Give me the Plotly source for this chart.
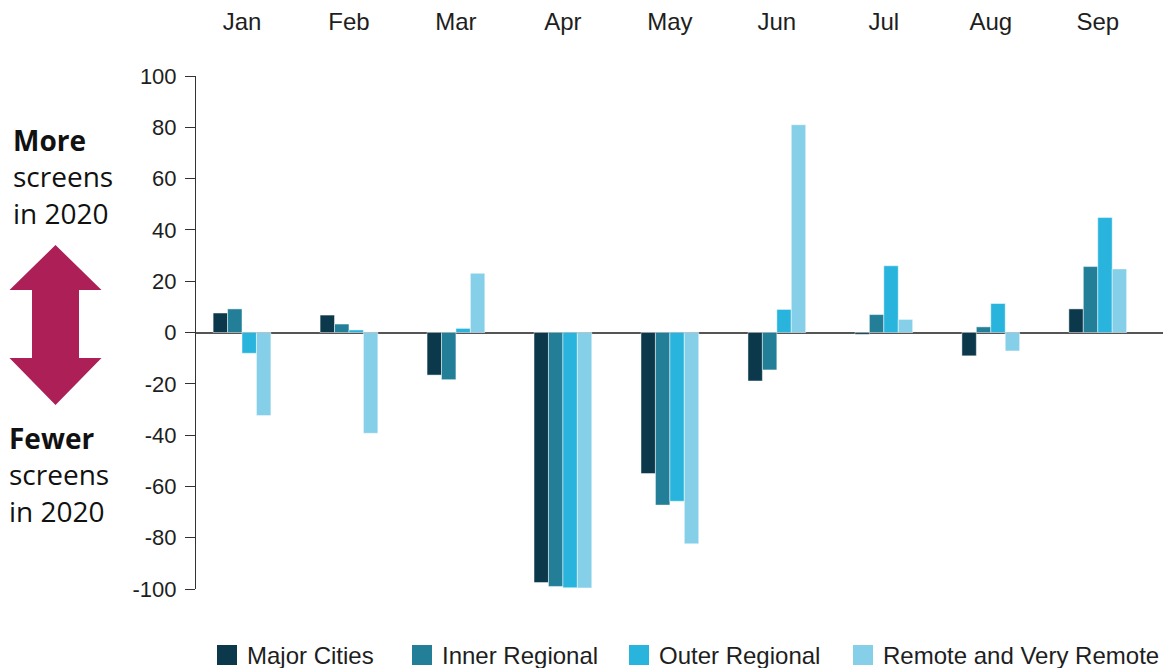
import plotly.graph_objects as go

months = ["Jan", "Feb", "Mar", "Apr", "May", "Jun", "Jul", "Aug", "Sep"]
major_cities = [7.6, 6.8, -16.6, -97.5, -55.0, -18.9, -0.7, -9.1, 9.2]
inner_regional = [9.2, 3.3, -18.4, -99.0, -67.3, -14.6, 7.0, 2.2, 25.7]
outer_regional = [-8.1, 1.0, 1.6, -99.5, -65.8, 9.0, 26.0, 11.3, 44.8]
remote = [-32.4, -39.3, 23.1, -99.6, -82.4, 81.0, 5.1, -7.2, 24.8]
y_ticks = list(range(-100, 101, 20))
y_tick_labels = [str(v) for v in y_ticks]

series = [
    ("Major Cities", major_cities, "#0b394b"),
    ("Inner Regional", inner_regional, "#237f98"),
    ("Outer Regional", outer_regional, "#29b4dd"),
    ("Remote and Very Remote", remote, "#86cfe9"),
]

W, H = 1173, 668
L, R, T, B = 196, 1163, 76, 589

def px(x):
    return (x - L) / (R - L)

def py(y):
    return (B - y) / (B - T)

FONT = "Liberation Sans, Arial, sans-serif"
TXT = "#1e1e1e"

fig = go.Figure()
for name, vals, col in series:
    fig.add_trace(go.Bar(
        x=months, y=vals, name=name, showlegend=False,
        marker=dict(color=col, line=dict(color="rgba(255,255,255,0.6)", width=0.8)),
    ))

arrow = [(55.5, 245), (101.5, 290), (79, 290), (79, 358), (101.5, 358),
         (55.5, 405), (9.5, 358), (32, 358), (32, 290), (9.5, 290)]
path = "M " + " L ".join(f"{px(x):.5f},{py(y):.5f}" for x, y in arrow) + " Z"

shapes = [dict(type="path", xref="paper", yref="paper", path=path,
               fillcolor="#ac1f57", line=dict(width=0))]
annotations = [
    dict(xref="paper", yref="paper", x=px(11), y=py(119), xanchor="left", yanchor="top",
         align="left", showarrow=False,
         text="<b>More</b><br>screens<br>in 2020",
         font=dict(family="Open Sans", size=28, color="#111111")),
    dict(xref="paper", yref="paper", x=px(7), y=py(417), xanchor="left", yanchor="top",
         align="left", showarrow=False,
         text="<b>Fewer</b><br>screens<br>in 2020",
         font=dict(family="Open Sans", size=28, color="#111111")),
]

# legend drawn below the plot
legend_x = [217, 412, 629, 853]
for (name, _, col), lx in zip(series, legend_x):
    shapes.append(dict(type="rect", xref="paper", yref="paper",
                       x0=px(lx), x1=px(lx + 20), y0=py(665), y1=py(645),
                       fillcolor=col, line=dict(width=0)))
    annotations.append(dict(xref="paper", yref="paper", x=px(lx + 28), y=py(655),
                            xanchor="left", yanchor="middle", showarrow=False,
                            text=name, font=dict(family=FONT, size=24, color=TXT)))

fig.update_layout(
    width=W, height=H,
    margin=dict(l=L, r=W - R, t=T, b=H - B, autoexpand=False),
    paper_bgcolor="white", plot_bgcolor="white",
    barmode="group", bargap=0.46, bargroupgap=0,
    font=dict(family=FONT, size=22, color=TXT),
    showlegend=False,
    xaxis=dict(side="top", range=[-0.43, 8.61], showline=False, ticks="",
               showgrid=False, zeroline=False, ticklabelstandoff=40, automargin=False,
               tickfont=dict(family=FONT, size=24, color=TXT)),
    yaxis=dict(range=[-100, 100], tickvals=y_ticks, ticktext=y_tick_labels,
               showline=True, linecolor="#333333", linewidth=1,
               ticks="outside", ticklen=10, tickcolor="#333333", ticklabelstandoff=4,
               showgrid=False, zeroline=True, zerolinecolor="#555555", zerolinewidth=2,
               automargin=False,
               tickfont=dict(family=FONT, size=22, color=TXT)),
    shapes=shapes,
    annotations=annotations,
)

fig.write_html("out.html", config={"displayModeBar": False},
               post_script="document.body.style.margin='0';document.body.style.overflow='hidden';")
